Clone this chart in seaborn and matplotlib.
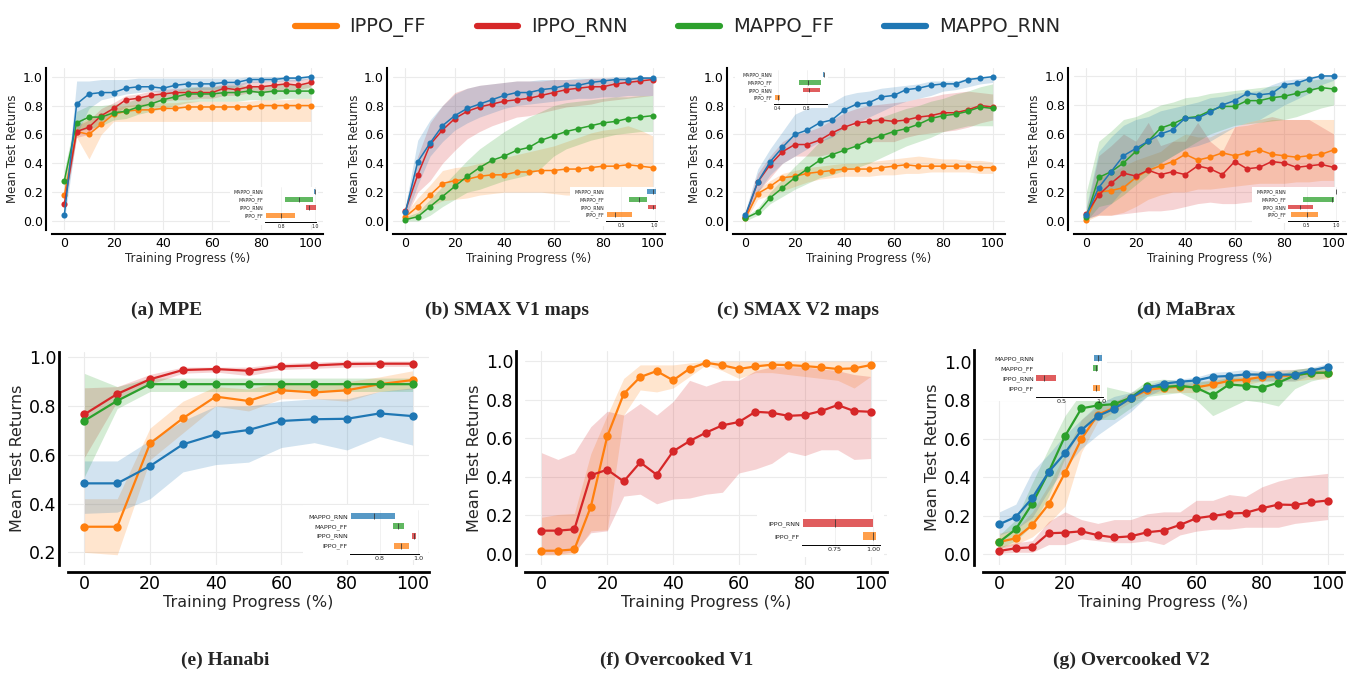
import matplotlib
matplotlib.use('Agg')
import matplotlib.pyplot as plt
import seaborn as sns
import pandas as pd
from matplotlib.lines import Line2D
from matplotlib.patches import Rectangle
from matplotlib.ticker import FormatStrFormatter

ALGOS = ['IPPO_FF', 'IPPO_RNN', 'MAPPO_FF', 'MAPPO_RNN']
INSET_ORDER = ['MAPPO_RNN', 'MAPPO_FF', 'IPPO_RNN', 'IPPO_FF']
COLORS = {'IPPO_FF': '#ff7f0e', 'IPPO_RNN': '#d62728',
          'MAPPO_FF': '#2ca02c', 'MAPPO_RNN': '#1f77b4'}

STEPS_21 = [0, 5, 10, 15, 20, 25, 30, 35, 40, 45, 50, 55, 60, 65, 70, 75, 80, 85, 90, 95, 100]
STEPS_11 = [0, 10, 20, 30, 40, 50, 60, 70, 80, 90, 100]

# ---------------- (a) MPE ----------------
MPE_MEAN = {
    'IPPO_FF':   [0.18, 0.62, 0.60, 0.67, 0.74, 0.76, 0.77, 0.77, 0.78, 0.78, 0.79, 0.79, 0.79, 0.79, 0.79, 0.79, 0.80, 0.80, 0.80, 0.80, 0.80],
    'IPPO_RNN':  [0.12, 0.62, 0.65, 0.73, 0.78, 0.84, 0.85, 0.87, 0.88, 0.89, 0.89, 0.89, 0.89, 0.92, 0.91, 0.93, 0.93, 0.94, 0.95, 0.94, 0.96],
    'MAPPO_FF':  [0.28, 0.68, 0.72, 0.72, 0.75, 0.76, 0.79, 0.81, 0.84, 0.86, 0.88, 0.88, 0.88, 0.89, 0.89, 0.90, 0.89, 0.90, 0.90, 0.90, 0.90],
    'MAPPO_RNN': [0.04, 0.81, 0.88, 0.89, 0.89, 0.92, 0.93, 0.93, 0.92, 0.94, 0.95, 0.95, 0.95, 0.96, 0.96, 0.98, 0.98, 0.98, 0.99, 0.99, 1.00],
}
MPE_LO = {
    'IPPO_FF':   [0.12, 0.58, 0.43, 0.60, 0.69, 0.69, 0.69, 0.69, 0.69, 0.69, 0.69, 0.69, 0.69, 0.69, 0.69, 0.69, 0.69, 0.69, 0.69, 0.69, 0.69],
    'IPPO_RNN':  [0.08, 0.58, 0.60, 0.68, 0.74, 0.79, 0.80, 0.82, 0.83, 0.84, 0.84, 0.85, 0.85, 0.87, 0.87, 0.89, 0.89, 0.90, 0.91, 0.91, 0.93],
    'MAPPO_FF':  [0.22, 0.62, 0.64, 0.66, 0.70, 0.71, 0.74, 0.76, 0.78, 0.80, 0.82, 0.83, 0.83, 0.83, 0.83, 0.84, 0.84, 0.84, 0.85, 0.85, 0.85],
    'MAPPO_RNN': [0.00, 0.60, 0.78, 0.84, 0.86, 0.88, 0.89, 0.90, 0.89, 0.90, 0.91, 0.91, 0.91, 0.92, 0.93, 0.96, 0.96, 0.97, 0.97, 0.97, 0.99],
}
MPE_HI = {
    'IPPO_FF':   [0.30, 0.66, 0.72, 0.74, 0.78, 0.80, 0.81, 0.82, 0.82, 0.82, 0.83, 0.83, 0.83, 0.83, 0.83, 0.83, 0.84, 0.84, 0.84, 0.85, 0.85],
    'IPPO_RNN':  [0.17, 0.66, 0.70, 0.78, 0.82, 0.87, 0.88, 0.90, 0.91, 0.92, 0.92, 0.93, 0.93, 0.95, 0.95, 0.97, 0.97, 0.97, 0.98, 0.98, 0.99],
    'MAPPO_FF':  [0.35, 0.76, 0.80, 0.80, 0.81, 0.82, 0.85, 0.87, 0.89, 0.90, 0.93, 0.93, 0.93, 0.94, 0.94, 0.94, 0.94, 0.94, 0.95, 0.95, 0.95],
    'MAPPO_RNN': [0.08, 0.97, 0.97, 0.98, 0.98, 0.98, 0.99, 0.99, 0.99, 0.99, 0.99, 0.99, 0.99, 0.99, 0.99, 1.00, 1.00, 1.00, 1.00, 1.00, 1.00],
}
MPE_INSET = {'MAPPO_RNN': [0.993, 0.997, 1.000], 'MAPPO_FF': [0.824, 0.907, 0.985],
             'IPPO_RNN': [0.945, 0.963, 1.005], 'IPPO_FF': [0.708, 0.800, 0.878]}

# ---------------- (b) SMAX V1 ----------------
SMAX1_MEAN = {
    'IPPO_FF':   [0.03, 0.10, 0.18, 0.26, 0.28, 0.29, 0.31, 0.32, 0.32, 0.34, 0.34, 0.35, 0.35, 0.36, 0.36, 0.37, 0.38, 0.38, 0.39, 0.38, 0.37],
    'IPPO_RNN':  [0.07, 0.32, 0.53, 0.63, 0.71, 0.76, 0.79, 0.81, 0.83, 0.84, 0.85, 0.87, 0.89, 0.91, 0.92, 0.93, 0.93, 0.95, 0.96, 0.97, 0.98],
    'MAPPO_FF':  [0.01, 0.03, 0.10, 0.17, 0.24, 0.31, 0.37, 0.42, 0.45, 0.49, 0.51, 0.56, 0.59, 0.62, 0.64, 0.66, 0.68, 0.69, 0.71, 0.72, 0.73],
    'MAPPO_RNN': [0.06, 0.41, 0.54, 0.66, 0.73, 0.78, 0.81, 0.84, 0.87, 0.89, 0.89, 0.91, 0.92, 0.94, 0.94, 0.96, 0.97, 0.98, 0.98, 0.99, 0.99],
}
SMAX1_LO = {
    'IPPO_FF':   [0.00, 0.04, 0.10, 0.14, 0.15, 0.16, 0.18, 0.19, 0.20, 0.20, 0.20, 0.20, 0.19, 0.18, 0.18, 0.17, 0.16, 0.16, 0.15, 0.15, 0.15],
    'IPPO_RNN':  [0.02, 0.20, 0.28, 0.40, 0.49, 0.57, 0.62, 0.66, 0.69, 0.72, 0.73, 0.75, 0.77, 0.79, 0.80, 0.81, 0.83, 0.84, 0.85, 0.86, 0.87],
    'MAPPO_FF':  [0.00, 0.00, 0.04, 0.10, 0.15, 0.20, 0.22, 0.25, 0.28, 0.30, 0.32, 0.37, 0.45, 0.50, 0.53, 0.56, 0.58, 0.60, 0.61, 0.62, 0.62],
    'MAPPO_RNN': [0.02, 0.25, 0.45, 0.55, 0.63, 0.68, 0.72, 0.75, 0.78, 0.80, 0.81, 0.82, 0.83, 0.84, 0.85, 0.85, 0.86, 0.86, 0.87, 0.87, 0.87],
}
SMAX1_HI = {
    'IPPO_FF':   [0.05, 0.16, 0.25, 0.35, 0.37, 0.38, 0.40, 0.42, 0.44, 0.46, 0.48, 0.50, 0.52, 0.55, 0.58, 0.61, 0.63, 0.64, 0.66, 0.63, 0.59],
    'IPPO_RNN':  [0.10, 0.45, 0.68, 0.80, 0.89, 0.92, 0.94, 0.95, 0.96, 0.97, 0.97, 0.97, 0.98, 0.98, 0.98, 0.99, 0.99, 0.99, 0.99, 1.00, 1.00],
    'MAPPO_FF':  [0.03, 0.06, 0.15, 0.24, 0.33, 0.42, 0.50, 0.56, 0.62, 0.67, 0.72, 0.76, 0.80, 0.82, 0.83, 0.84, 0.85, 0.86, 0.86, 0.87, 0.87],
    'MAPPO_RNN': [0.10, 0.56, 0.70, 0.80, 0.88, 0.92, 0.94, 0.95, 0.96, 0.97, 0.97, 0.98, 0.98, 0.98, 0.99, 0.99, 0.99, 1.00, 1.00, 1.00, 1.00],
}
SMAX1_INSET = {'MAPPO_RNN': [0.89, 0.97, 1.02], 'MAPPO_FF': [0.62, 0.76, 0.89],
               'IPPO_RNN': [0.905, 0.97, 1.02], 'IPPO_FF': [0.285, 0.41, 0.66]}

# ---------------- (c) SMAX V2 ----------------
SMAX2_MEAN = {
    'IPPO_FF':   [0.02, 0.19, 0.24, 0.30, 0.31, 0.33, 0.34, 0.35, 0.36, 0.36, 0.36, 0.37, 0.38, 0.39, 0.38, 0.38, 0.38, 0.38, 0.38, 0.37, 0.37],
    'IPPO_RNN':  [0.03, 0.27, 0.39, 0.48, 0.53, 0.53, 0.56, 0.61, 0.65, 0.68, 0.69, 0.70, 0.69, 0.70, 0.72, 0.73, 0.75, 0.75, 0.77, 0.80, 0.79],
    'MAPPO_FF':  [0.02, 0.06, 0.16, 0.23, 0.30, 0.36, 0.42, 0.46, 0.49, 0.52, 0.56, 0.59, 0.62, 0.64, 0.67, 0.71, 0.73, 0.74, 0.76, 0.79, 0.78],
    'MAPPO_RNN': [0.04, 0.27, 0.41, 0.51, 0.60, 0.63, 0.68, 0.70, 0.77, 0.81, 0.82, 0.86, 0.87, 0.91, 0.92, 0.94, 0.95, 0.95, 0.98, 0.99, 1.00],
}
SMAX2_LO = {
    'IPPO_FF':   [0.00, 0.15, 0.18, 0.21, 0.24, 0.27, 0.29, 0.30, 0.31, 0.31, 0.31, 0.32, 0.32, 0.33, 0.33, 0.34, 0.34, 0.34, 0.34, 0.33, 0.33],
    'IPPO_RNN':  [0.01, 0.20, 0.30, 0.40, 0.45, 0.45, 0.45, 0.47, 0.50, 0.53, 0.55, 0.55, 0.55, 0.58, 0.60, 0.61, 0.62, 0.63, 0.65, 0.68, 0.70],
    'MAPPO_FF':  [0.00, 0.04, 0.12, 0.17, 0.22, 0.26, 0.30, 0.32, 0.35, 0.37, 0.40, 0.44, 0.48, 0.52, 0.55, 0.58, 0.62, 0.64, 0.66, 0.66, 0.66],
    'MAPPO_RNN': [0.02, 0.20, 0.32, 0.40, 0.45, 0.50, 0.55, 0.58, 0.65, 0.68, 0.72, 0.76, 0.80, 0.83, 0.85, 0.87, 0.90, 0.91, 0.93, 0.95, 0.96],
}
SMAX2_HI = {
    'IPPO_FF':   [0.04, 0.22, 0.28, 0.33, 0.35, 0.37, 0.38, 0.39, 0.40, 0.40, 0.41, 0.42, 0.43, 0.44, 0.45, 0.44, 0.43, 0.43, 0.42, 0.42, 0.41],
    'IPPO_RNN':  [0.06, 0.33, 0.45, 0.55, 0.60, 0.62, 0.65, 0.70, 0.75, 0.78, 0.80, 0.81, 0.82, 0.83, 0.85, 0.86, 0.88, 0.89, 0.90, 0.89, 0.88],
    'MAPPO_FF':  [0.03, 0.09, 0.20, 0.29, 0.38, 0.46, 0.55, 0.60, 0.65, 0.67, 0.70, 0.72, 0.75, 0.78, 0.80, 0.83, 0.85, 0.88, 0.90, 0.93, 0.95],
    'MAPPO_RNN': [0.07, 0.36, 0.50, 0.62, 0.74, 0.78, 0.80, 0.82, 0.87, 0.89, 0.90, 0.92, 0.93, 0.94, 0.95, 0.97, 0.97, 0.97, 0.99, 1.00, 1.00],
}
SMAX2_INSET = {'MAPPO_RNN': [1.025, 1.03, 1.035], 'MAPPO_FF': [0.694, 0.81, 0.99],
               'IPPO_RNN': [0.75, 0.83, 0.98], 'IPPO_FF': [0.364, 0.40, 0.43]}

# ---------------- (d) MaBrax ----------------
BRAX_MEAN = {
    'IPPO_FF':   [0.01, 0.20, 0.21, 0.23, 0.30, 0.35, 0.38, 0.41, 0.46, 0.42, 0.44, 0.47, 0.45, 0.47, 0.49, 0.46, 0.45, 0.44, 0.45, 0.46, 0.49],
    'IPPO_RNN':  [0.05, 0.18, 0.26, 0.33, 0.31, 0.35, 0.32, 0.34, 0.32, 0.38, 0.36, 0.32, 0.41, 0.36, 0.37, 0.41, 0.40, 0.37, 0.38, 0.39, 0.37],
    'MAPPO_FF':  [0.03, 0.30, 0.34, 0.40, 0.48, 0.55, 0.64, 0.67, 0.71, 0.72, 0.76, 0.79, 0.79, 0.83, 0.83, 0.85, 0.86, 0.88, 0.90, 0.92, 0.91],
    'MAPPO_RNN': [0.04, 0.23, 0.34, 0.45, 0.50, 0.55, 0.60, 0.63, 0.71, 0.71, 0.75, 0.80, 0.83, 0.88, 0.87, 0.88, 0.94, 0.95, 0.98, 1.00, 1.00],
}
BRAX_LO = {
    'IPPO_FF':   [0.00, 0.04, 0.04, 0.06, 0.10, 0.15, 0.18, 0.20, 0.20, 0.22, 0.22, 0.23, 0.24, 0.25, 0.26, 0.26, 0.26, 0.27, 0.27, 0.28, 0.28],
    'IPPO_RNN':  [0.02, 0.04, 0.04, 0.05, 0.06, 0.07, 0.07, 0.08, 0.10, 0.12, 0.13, 0.12, 0.12, 0.13, 0.14, 0.15, 0.15, 0.16, 0.16, 0.17, 0.18],
    'MAPPO_FF':  [0.00, 0.10, 0.12, 0.18, 0.25, 0.32, 0.40, 0.45, 0.50, 0.55, 0.60, 0.63, 0.66, 0.67, 0.68, 0.69, 0.70, 0.72, 0.75, 0.78, 0.80],
    'MAPPO_RNN': [0.01, 0.05, 0.12, 0.22, 0.30, 0.36, 0.40, 0.45, 0.50, 0.52, 0.55, 0.60, 0.65, 0.68, 0.70, 0.75, 0.80, 0.84, 0.88, 0.94, 0.97],
}
BRAX_HI = {
    'IPPO_FF':   [0.05, 0.30, 0.33, 0.38, 0.42, 0.45, 0.48, 0.55, 0.60, 0.58, 0.58, 0.62, 0.65, 0.66, 0.68, 0.70, 0.70, 0.70, 0.70, 0.70, 0.70],
    'IPPO_RNN':  [0.08, 0.45, 0.52, 0.60, 0.55, 0.68, 0.52, 0.55, 0.55, 0.68, 0.55, 0.48, 0.65, 0.68, 0.70, 0.72, 0.70, 0.70, 0.70, 0.65, 0.60],
    'MAPPO_FF':  [0.20, 0.55, 0.62, 0.70, 0.72, 0.76, 0.80, 0.82, 0.85, 0.86, 0.88, 0.89, 0.90, 0.91, 0.92, 0.93, 0.94, 0.96, 0.97, 0.98, 0.98],
    'MAPPO_RNN': [0.10, 0.48, 0.58, 0.66, 0.70, 0.72, 0.76, 0.78, 0.80, 0.82, 0.85, 0.86, 0.88, 0.89, 0.90, 0.94, 0.97, 0.98, 0.99, 1.00, 1.00],
}
BRAX_INSET = {'MAPPO_RNN': [0.985, 0.99, 0.995], 'MAPPO_FF': [0.44, 0.92, 0.955],
              'IPPO_RNN': [0.183, 0.38, 0.61], 'IPPO_FF': [0.24, 0.50, 0.69]}

# ---------------- (e) Hanabi ----------------
HANABI_MEAN = {
    'IPPO_FF':   [0.305, 0.305, 0.647, 0.750, 0.839, 0.821, 0.865, 0.856, 0.865, 0.890, 0.907],
    'IPPO_RNN':  [0.766, 0.850, 0.910, 0.948, 0.952, 0.945, 0.963, 0.967, 0.973, 0.974, 0.974],
    'MAPPO_FF':  [0.740, 0.822, 0.890, 0.890, 0.890, 0.890, 0.890, 0.890, 0.890, 0.890, 0.890],
    'MAPPO_RNN': [0.483, 0.483, 0.554, 0.643, 0.684, 0.702, 0.739, 0.746, 0.748, 0.770, 0.759],
}
HANABI_LO = {
    'IPPO_FF':   [0.20, 0.19, 0.58, 0.69, 0.80, 0.78, 0.83, 0.83, 0.82, 0.86, 0.87],
    'IPPO_RNN':  [0.59, 0.82, 0.89, 0.935, 0.94, 0.925, 0.95, 0.955, 0.96, 0.963, 0.963],
    'MAPPO_FF':  [0.51, 0.79, 0.86, 0.86, 0.86, 0.86, 0.86, 0.86, 0.86, 0.86, 0.86],
    'MAPPO_RNN': [0.36, 0.365, 0.42, 0.53, 0.56, 0.57, 0.63, 0.65, 0.62, 0.675, 0.64],
}
HANABI_HI = {
    'IPPO_FF':   [0.42, 0.42, 0.71, 0.82, 0.88, 0.87, 0.90, 0.89, 0.90, 0.92, 0.945],
    'IPPO_RNN':  [0.875, 0.88, 0.93, 0.96, 0.96, 0.96, 0.975, 0.98, 0.985, 0.985, 0.985],
    'MAPPO_FF':  [0.934, 0.88, 0.915, 0.915, 0.915, 0.915, 0.915, 0.915, 0.915, 0.915, 0.915],
    'MAPPO_RNN': [0.575, 0.575, 0.66, 0.74, 0.80, 0.80, 0.82, 0.83, 0.83, 0.86, 0.875],
}
HANABI_INSET = {'MAPPO_RNN': [0.65, 0.77, 0.878], 'MAPPO_FF': [0.87, 0.895, 0.924],
                'IPPO_RNN': [0.966, 0.975, 0.985], 'IPPO_FF': [0.873, 0.91, 0.951]}

# ---------------- (f) Overcooked V1 ----------------
OC1_MEAN = {
    'IPPO_FF':  [0.017, 0.017, 0.024, 0.245, 0.61, 0.83, 0.917, 0.948, 0.90, 0.96, 0.991, 0.978, 0.959, 0.972, 0.981, 0.979, 0.974, 0.967, 0.959, 0.962, 0.979],
    'IPPO_RNN': [0.121, 0.121, 0.128, 0.408, 0.437, 0.376, 0.475, 0.411, 0.532, 0.585, 0.629, 0.667, 0.684, 0.737, 0.732, 0.716, 0.72, 0.741, 0.772, 0.741, 0.737],
}
OC1_LO = {
    'IPPO_FF':  [-0.005, -0.005, 0.0, 0.12, 0.125, 0.72, 0.85, 0.84, 0.86, 0.92, 0.98, 0.95, 0.91, 0.94, 0.94, 0.93, 0.92, 0.91, 0.90, 0.86, 0.92],
    'IPPO_RNN': [0.0, 0.0, 0.01, 0.11, 0.12, 0.30, 0.31, 0.26, 0.285, 0.29, 0.31, 0.32, 0.42, 0.44, 0.47, 0.53, 0.51, 0.54, 0.54, 0.49, 0.495],
}
OC1_HI = {
    'IPPO_FF':  [0.19, 0.205, 0.21, 0.52, 0.72, 0.91, 0.98, 0.98, 0.98, 0.99, 1.0, 1.0, 1.0, 1.0, 1.0, 1.0, 1.0, 1.0, 1.0, 1.0, 1.0],
    'IPPO_RNN': [0.525, 0.49, 0.525, 0.66, 0.74, 0.72, 0.78, 0.72, 0.79, 0.90, 0.87, 0.90, 0.90, 0.95, 0.97, 0.97, 0.97, 0.96, 0.95, 0.93, 0.92],
}
OC1_INSET = {'IPPO_RNN': [0.54, 0.75, 0.995], 'IPPO_FF': [0.935, 1.0, 1.02]}

# ---------------- (g) Overcooked V2 ----------------
OC2_MEAN = {
    'IPPO_FF':   [0.064, 0.083, 0.152, 0.26, 0.424, 0.599, 0.725, 0.761, 0.811, 0.853, 0.865, 0.87, 0.867, 0.882, 0.901, 0.907, 0.922, 0.926, 0.929, 0.943, 0.943],
    'IPPO_RNN':  [0.017, 0.031, 0.036, 0.109, 0.112, 0.119, 0.099, 0.087, 0.093, 0.114, 0.123, 0.152, 0.187, 0.199, 0.211, 0.215, 0.239, 0.258, 0.256, 0.27, 0.279],
    'MAPPO_FF':  [0.064, 0.13, 0.263, 0.427, 0.614, 0.758, 0.773, 0.78, 0.813, 0.874, 0.869, 0.875, 0.865, 0.825, 0.882, 0.875, 0.865, 0.891, 0.929, 0.943, 0.943],
    'MAPPO_RNN': [0.156, 0.194, 0.291, 0.427, 0.526, 0.645, 0.718, 0.756, 0.811, 0.862, 0.886, 0.896, 0.903, 0.922, 0.926, 0.934, 0.933, 0.933, 0.933, 0.953, 0.974],
}
OC2_LO = {
    'IPPO_FF':   [0.03, 0.05, 0.09, 0.16, 0.25, 0.53, 0.69, 0.74, 0.79, 0.83, 0.84, 0.84, 0.84, 0.86, 0.88, 0.88, 0.90, 0.90, 0.90, 0.91, 0.91],
    'IPPO_RNN':  [0.005, 0.01, 0.01, 0.05, 0.05, 0.08, 0.07, 0.06, 0.06, 0.07, 0.05, 0.10, 0.12, 0.13, 0.13, 0.14, 0.14, 0.14, 0.16, 0.17, 0.18],
    'MAPPO_FF':  [0.03, 0.07, 0.15, 0.30, 0.50, 0.66, 0.70, 0.70, 0.76, 0.82, 0.83, 0.84, 0.80, 0.72, 0.76, 0.80, 0.79, 0.77, 0.86, 0.90, 0.92],
    'MAPPO_RNN': [0.10, 0.13, 0.19, 0.33, 0.45, 0.55, 0.62, 0.68, 0.74, 0.82, 0.86, 0.87, 0.88, 0.89, 0.90, 0.90, 0.90, 0.90, 0.90, 0.93, 0.95],
}
OC2_HI = {
    'IPPO_FF':   [0.11, 0.13, 0.22, 0.36, 0.52, 0.70, 0.77, 0.79, 0.84, 0.87, 0.88, 0.89, 0.89, 0.91, 0.93, 0.94, 0.95, 0.96, 0.96, 0.97, 0.97],
    'IPPO_RNN':  [0.04, 0.06, 0.07, 0.17, 0.22, 0.18, 0.16, 0.18, 0.18, 0.21, 0.22, 0.22, 0.28, 0.28, 0.31, 0.30, 0.35, 0.38, 0.40, 0.41, 0.42],
    'MAPPO_FF':  [0.10, 0.18, 0.37, 0.55, 0.72, 0.84, 0.88, 0.86, 0.84, 0.90, 0.91, 0.90, 0.90, 0.90, 0.92, 0.92, 0.92, 0.93, 0.96, 0.97, 0.97],
    'MAPPO_RNN': [0.22, 0.26, 0.43, 0.52, 0.62, 0.70, 0.78, 0.82, 0.84, 0.88, 0.905, 0.91, 0.92, 0.945, 0.95, 0.96, 0.95, 0.955, 0.96, 0.97, 0.99],
}
OC2_INSET = {'MAPPO_RNN': [0.916, 0.96, 1.01], 'MAPPO_FF': [0.90, 0.935, 0.965],
             'IPPO_RNN': [0.174, 0.27, 0.43], 'IPPO_FF': [0.895, 0.94, 0.99]}

TITLES = ['(a) MPE', '(b) SMAX V1 maps', '(c) SMAX V2 maps', '(d) MaBrax',
          '(e) Hanabi', '(f) Overcooked V1', '(g) Overcooked V2']

# ---------------- layout (pixels) ----------------
W, H = 1355, 675


def px_rect(l, t, r, b):
    return [l / W, 1 - b / H, (r - l) / W, (b - t) / H]


panels = [
    dict(steps=STEPS_21, mean=MPE_MEAN, lo=MPE_LO, hi=MPE_HI, inset=MPE_INSET,
         box=(52, 68, 323, 230), ylim=(-0.062, 1.06), yticks=[0, 0.2, 0.4, 0.6, 0.8, 1.0],
         ibox=(265, 187, 316, 222), ixlim=(0.703, 1.005), ixticks=[0.8, 1.0], ifmt='%.1f',
         white=(230, 187, 318, 225), title_xy=(167, 310), big=False),
    dict(steps=STEPS_21, mean=SMAX1_MEAN, lo=SMAX1_LO, hi=SMAX1_HI, inset=SMAX1_INSET,
         box=(393, 68, 665, 230), ylim=(-0.062, 1.06), yticks=[0, 0.2, 0.4, 0.6, 0.8, 1.0],
         ibox=(606, 187, 657, 221), ixlim=(0.27, 1.035), ixticks=[0.5, 1.0], ifmt='%.1f',
         white=(570, 187, 660, 226), title_xy=(507, 310), big=False),
    dict(steps=STEPS_21, mean=SMAX2_MEAN, lo=SMAX2_LO, hi=SMAX2_HI, inset=SMAX2_INSET,
         box=(733, 68, 1005, 230), ylim=(-0.062, 1.06), yticks=[0, 0.2, 0.4, 0.6, 0.8, 1.0],
         ibox=(774, 70, 827, 104), ixlim=(0.35, 1.076), ixticks=[0.4, 0.8], ifmt='%.1f',
         white=(735, 68, 828, 108), title_xy=(798, 310), big=False),
    dict(steps=STEPS_21, mean=BRAX_MEAN, lo=BRAX_LO, hi=BRAX_HI, inset=BRAX_INSET,
         box=(1074, 68, 1346, 230), ylim=(-0.062, 1.055), yticks=[0, 0.2, 0.4, 0.6, 0.8, 1.0],
         ibox=(1288, 187, 1338, 221), ixlim=(0.183, 1.027), ixticks=[0.5, 1.0], ifmt='%.1f',
         white=(1252, 187, 1342, 223), title_xy=(1186, 310), big=False),
    dict(steps=STEPS_11, mean=HANABI_MEAN, lo=HANABI_LO, hi=HANABI_HI, inset=HANABI_INSET,
         box=(68, 352, 429, 565), ylim=(0.148, 1.022), yticks=[0.2, 0.4, 0.6, 0.8, 1.0],
         ibox=(350, 510, 419, 554), ixlim=(0.647, 1.003), ixticks=[0.8, 1.0], ifmt='%.1f',
         white=(303, 505, 428, 560), title_xy=(225, 660), big=True),
    dict(steps=STEPS_21, mean=OC1_MEAN, lo=OC1_LO, hi=OC1_HI, inset=OC1_INSET,
         box=(525, 351, 887, 565), ylim=(-0.057, 1.052), yticks=[0, 0.2, 0.4, 0.6, 0.8, 1.0],
         ibox=(802, 515, 880, 545), ixlim=(0.533, 1.044), ixticks=[0.75, 1.0], ifmt='%.2f',
         white=(757, 512, 884, 557), title_xy=(677, 660), big=True),
    dict(steps=STEPS_21, mean=OC2_MEAN, lo=OC2_LO, hi=OC2_HI, inset=OC2_INSET,
         box=(983, 350, 1344, 565), ylim=(-0.056, 1.061), yticks=[0, 0.2, 0.4, 0.6, 0.8, 1.0],
         ibox=(1036, 352, 1103, 397), ixlim=(0.174, 1.027), ixticks=[0.5, 1.0], ifmt='%.1f',
         white=(983, 350, 1107, 401), title_xy=(1131, 660), big=True),
]

sns.set_theme(style='whitegrid')
plt.rcParams['font.family'] = ['DejaVu Sans']

fig = plt.figure(figsize=(W / 100, H / 100), dpi=100)


def draw_inset(ax, p):
    ins = ax.inset_axes(px_rect(*p['ibox']), transform=fig.transFigure, zorder=5)
    names = [n for n in INSET_ORDER if n in p['inset']]
    n = len(names)
    for i, name in enumerate(names):
        lo, med, hi = p['inset'][name]
        y = n - 1 - i
        ins.barh(y, hi - lo, left=lo, height=0.6, color=COLORS[name], alpha=0.75, linewidth=0)
        ins.vlines(med, y - 0.3, y + 0.3, color='#333333', alpha=0.8, linewidth=0.7)
    ins.set_yticks(list(range(n)))
    ins.set_yticklabels(names[::-1])
    ins.set_xlim(*p['ixlim'])
    ins.set_ylim(-0.85 if n > 2 else -0.65, n - 0.4)
    ins.set_xticks(p['ixticks'])
    ins.xaxis.set_major_formatter(FormatStrFormatter(p['ifmt']))
    fs = 4.6 if p['big'] else 3.4
    ins.tick_params(axis='both', length=0, pad=1.5, labelsize=fs, colors='#222222')
    ins.set_facecolor('white')
    ins.grid(axis='y', visible=False)
    ins.grid(axis='x', color='#ececec', linewidth=0.5)
    for side in ['top', 'right', 'left']:
        ins.spines[side].set_visible(False)
    ins.spines['bottom'].set_color('black')
    ins.spines['bottom'].set_linewidth(0.7)


for p, title in zip(panels, TITLES):
    big = p['big']
    ax = fig.add_axes(px_rect(*p['box']))
    present = [a for a in ALGOS if a in p['mean']]
    rows = []
    for algo in present:
        for s, v in zip(p['steps'], p['mean'][algo]):
            rows.append({'step': s, 'ret': v, 'algo': algo})
    df = pd.DataFrame(rows)

    for algo in present:
        ax.fill_between(p['steps'], p['lo'][algo], p['hi'][algo],
                        color=COLORS[algo], alpha=0.2, linewidth=0, zorder=1)
    sns.lineplot(data=df, x='step', y='ret', hue='algo', hue_order=present,
                 palette=COLORS, marker='o', markersize=6.0 if big else 4.4,
                 markeredgewidth=0, linewidth=1.6 if big else 1.1,
                 legend=False, ax=ax, zorder=2)

    ax.set_xlim(-5, 105)
    ax.set_ylim(*p['ylim'])
    ax.set_xticks([0, 20, 40, 60, 80, 100])
    ax.set_yticks(p['yticks'])
    ax.yaxis.set_major_formatter(FormatStrFormatter('%.1f'))
    tick_fs = 12.5 if big else 9
    lab_fs = 11.5 if big else 8.5
    ax.tick_params(axis='both', length=0, pad=2, labelsize=tick_fs, colors='black')
    ax.set_xlabel('Training Progress (%)', fontsize=lab_fs, labelpad=1.5)
    ax.set_ylabel('Mean Test Returns', fontsize=lab_fs, labelpad=2.5)
    ax.grid(color='#ebebeb', linewidth=0.8)
    ax.set_facecolor('white')
    for side in ['top', 'right']:
        ax.spines[side].set_visible(False)
    for side in ['left', 'bottom']:
        ax.spines[side].set_color('black')
        ax.spines[side].set_linewidth(2.0 if big else 1.5)
    ax.spines['left'].set_position(('outward', 6.5 if big else 4.5))
    ax.spines['bottom'].set_position(('outward', 5 if big else 3))

    # white background behind the inset and its labels
    wl, wt, wr, wb = p['white']
    ax.add_patch(Rectangle((wl / W, 1 - wb / H), (wr - wl) / W, (wb - wt) / H,
                           transform=fig.transFigure, facecolor='white',
                           edgecolor='none', zorder=4, clip_on=False))
    draw_inset(ax, p)

    tx, ty = p['title_xy']
    fig.text(tx / W, 1 - ty / H, title, ha='center', va='center', fontsize=14,
             fontweight='bold', family=['Liberation Serif', 'DejaVu Serif'])

handles = [Line2D([0], [0], color=COLORS[a], linewidth=4.5) for a in ALGOS]
fig.legend(handles, ALGOS, loc='upper center', bbox_to_anchor=(0.5, 1.0), ncol=4,
           frameon=False, fontsize=14, handlelength=2.15, handletextpad=0.65,
           columnspacing=2.6)

fig.savefig('out.png', dpi=100)
